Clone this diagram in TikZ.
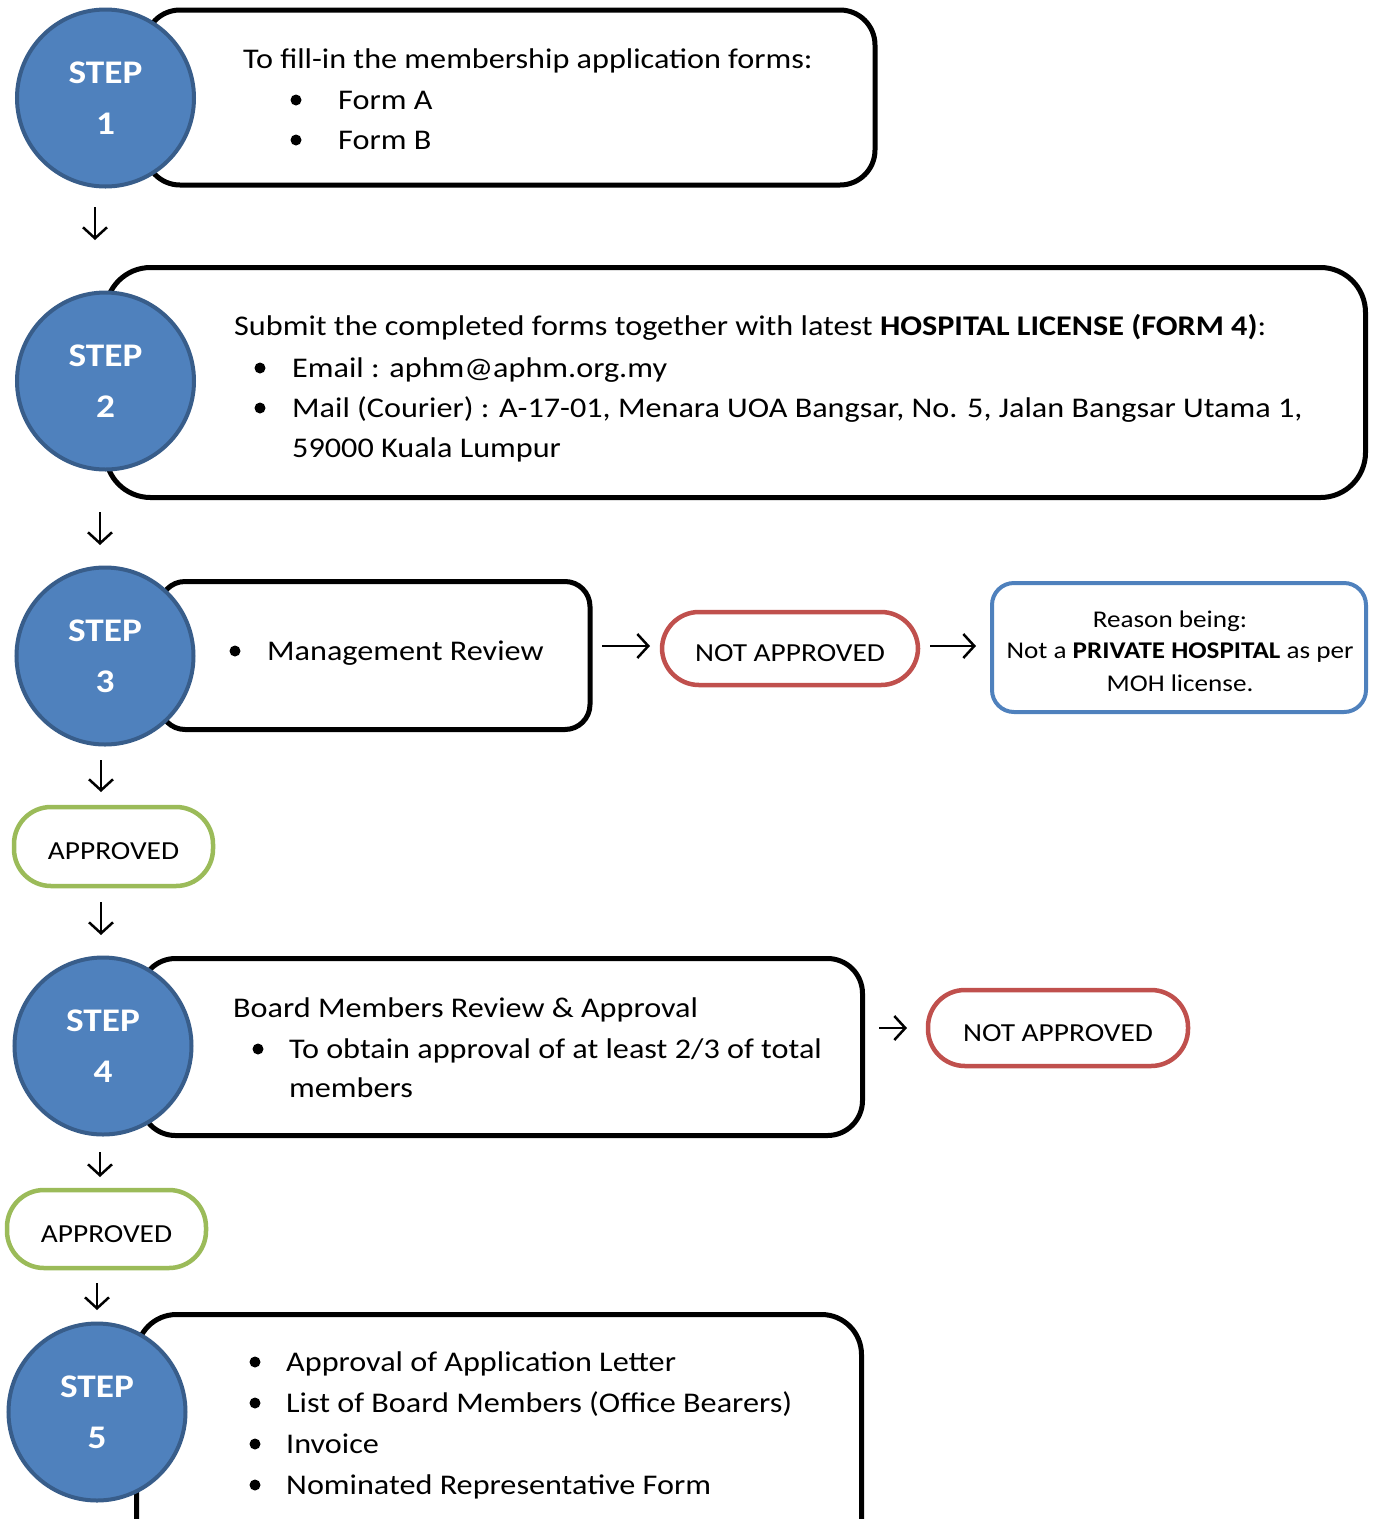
\documentclass[tikz,border=0pt]{standalone}
\usepackage{fontspec}
\setmainfont{Carlito}[FakeStretch=1.13]
\usetikzlibrary{arrows.meta}
\definecolor{stepfill}{HTML}{4F81BD}
\definecolor{stepedge}{HTML}{385D8A}
\definecolor{nared}{HTML}{C0504D}
\definecolor{apgreen}{HTML}{9BBB59}
\definecolor{reasonblue}{HTML}{4F81BD}
\begin{document}
\begin{tikzpicture}[x=1pt,y=-1pt,
  box/.style={draw=black,line width=5pt,fill=white,rectangle,inner sep=0pt},
  stepcirc/.style={circle,draw=stepedge,fill=stepfill,line width=4pt,minimum size=177pt,inner sep=0pt,text=white,font=\fontsize{33}{51}\selectfont\bfseries,align=center},
  pill/.style={rectangle,rounded corners=37pt,line width=4.5pt,fill=white,inner sep=0pt,font=\fontsize{26}{30}\selectfont,text height=26pt,text depth=0pt},
  txt/.style={anchor=base west,inner sep=0pt,font=\fontsize{28.5}{34}\selectfont},
  rtxt/.style={anchor=base,inner sep=0pt,font=\fontsize{24}{30}\selectfont},
  bul/.style={circle,fill=black,inner sep=0pt,minimum size=11pt},
  arr/.style={line width=2.5pt,-{Straight Barb[length=11pt,width=24pt]}},
]
\useasboundingbox (0,0) rectangle (1376,1519);
\clip (0,0) rectangle (1376,1519);
\fill[white] (0,0) rectangle (1376,1519);

% boxes
\node[box,rounded corners=35pt,minimum width=730pt,minimum height=175pt] (b1) at (510,97.5) {};
\node[box,rounded corners=45pt,minimum width=1260pt,minimum height=230pt] (b2) at (735.5,382.5) {};
\node[box,rounded corners=25pt,minimum width=430pt,minimum height=148pt] (b3) at (375,655.5) {};
\node[box,rounded corners=35pt,minimum width=722pt,minimum height=177pt] (b4) at (501.5,1047) {};
\node[box,rounded corners=40pt,minimum width=725pt,minimum height=250pt] (b5) at (499,1439.5) {};

% circles
\node[stepcirc] (s1) at (105.5,98) {STEP\\1};
\node[stepcirc] (s2) at (105.5,381) {STEP\\2};
\node[stepcirc] (s3) at (105,656) {STEP\\3};
\node[stepcirc] (s4) at (103,1046) {STEP\\4};
\node[stepcirc] (s5) at (97,1412) {STEP\\5};

% pills
\node[pill,draw=nared,minimum width=256pt,minimum height=73pt] (na1) at (790,648.5) {NOT APPROVED};
\node[pill,draw=nared,minimum width=260pt,minimum height=76pt] (na2) at (1058,1028) {NOT APPROVED};
\node[pill,draw=apgreen,minimum width=199pt,minimum height=79pt] (ap1) at (113.5,846.5) {APPROVED};
\node[pill,draw=apgreen,minimum width=199pt,minimum height=78pt] (ap2) at (106.5,1229) {APPROVED};

% reason box
\node[rectangle,draw=reasonblue,line width=4pt,rounded corners=22pt,fill=white,minimum width=374pt,minimum height=129pt,inner sep=0pt] (rb) at (1179,647.5) {};
\node[rtxt] (rt1) at (1170,627) {Reason being:};
\node[rtxt] (rt2) at (1180,658) {Not a \textbf{PRIVATE HOSPITAL} as per};
\node[rtxt] (rt3) at (1180,691) {MOH license.};

% step 1 text
\node[txt] (t1) at (243,68) {To fill-in the membership application forms:};
\node[bul] (u11) at (296,100) {};
\node[txt] (t11) at (338,109) {Form A};
\node[bul] (u12) at (296,140) {};
\node[txt] (t12) at (338,149) {Form B};

% step 2 text
\node[txt] (t2) at (234,335) {Submit the completed forms together with latest \textbf{HOSPITAL LICENSE (FORM 4)}:};
\node[bul] (u21) at (260,368) {};
\node[txt] (t21) at (292,377) {Email : aphm@aphm.org.my};
\node[bul] (u22) at (260,408) {};
\node[txt] (t22) at (292,417) {Mail (Courier) : A-17-01, Menara UOA Bangsar, No. 5, Jalan Bangsar Utama 1,};
\node[txt] (t23) at (292,457) {59000 Kuala Lumpur};

% step 3 text
\node[bul] (u31) at (235,651) {};
\node[txt] (t31) at (267,660) {Management Review};

% step 4 text
\node[txt] (t4) at (233,1017) {Board Members Review \& Approval};
\node[bul] (u41) at (258,1049) {};
\node[txt] (t41) at (289,1058) {To obtain approval of at least 2/3 of total};
\node[txt] (t42) at (289,1097) {members};

% step 5 text
\node[bul] (u51) at (255,1362) {};
\node[txt] (t51) at (286,1371) {Approval of Application Letter};
\node[bul] (u52) at (255,1403) {};
\node[txt] (t52) at (286,1412) {List of Board Members (Office Bearers)};
\node[bul] (u53) at (255,1444) {};
\node[txt] (t53) at (286,1453) {Invoice};
\node[bul] (u54) at (255,1485) {};
\node[txt] (t54) at (286,1494) {Nominated Representative Form};

% arrow ends
\coordinate (a1s) at (95,207);   \coordinate (a1e) at (95,240);
\coordinate (a2s) at (100,512);  \coordinate (a2e) at (100,545);
\coordinate (a3s) at (101,760);  \coordinate (a3e) at (101,792);
\coordinate (a4s) at (101,902);  \coordinate (a4e) at (101,935);
\coordinate (a5s) at (100,1152); \coordinate (a5e) at (100,1177);
\coordinate (a6s) at (97,1283);  \coordinate (a6e) at (97,1310);
\coordinate (r1s) at (602,646);  \coordinate (r1e) at (650,646);
\coordinate (r2s) at (930,646);  \coordinate (r2e) at (976,646);
\coordinate (r3s) at (879,1028); \coordinate (r3e) at (907,1028);

\draw[arr] (a1s) -- (a1e);
\draw[arr] (a2s) -- (a2e);
\draw[arr] (a3s) -- (a3e);
\draw[arr] (a4s) -- (a4e);
\draw[arr] (a5s) -- (a5e);
\draw[arr] (a6s) -- (a6e);
\draw[arr] (r1s) -- (r1e);
\draw[arr] (r2s) -- (r2e);
\draw[arr] (r3s) -- (r3e);
\end{tikzpicture}
\end{document}
